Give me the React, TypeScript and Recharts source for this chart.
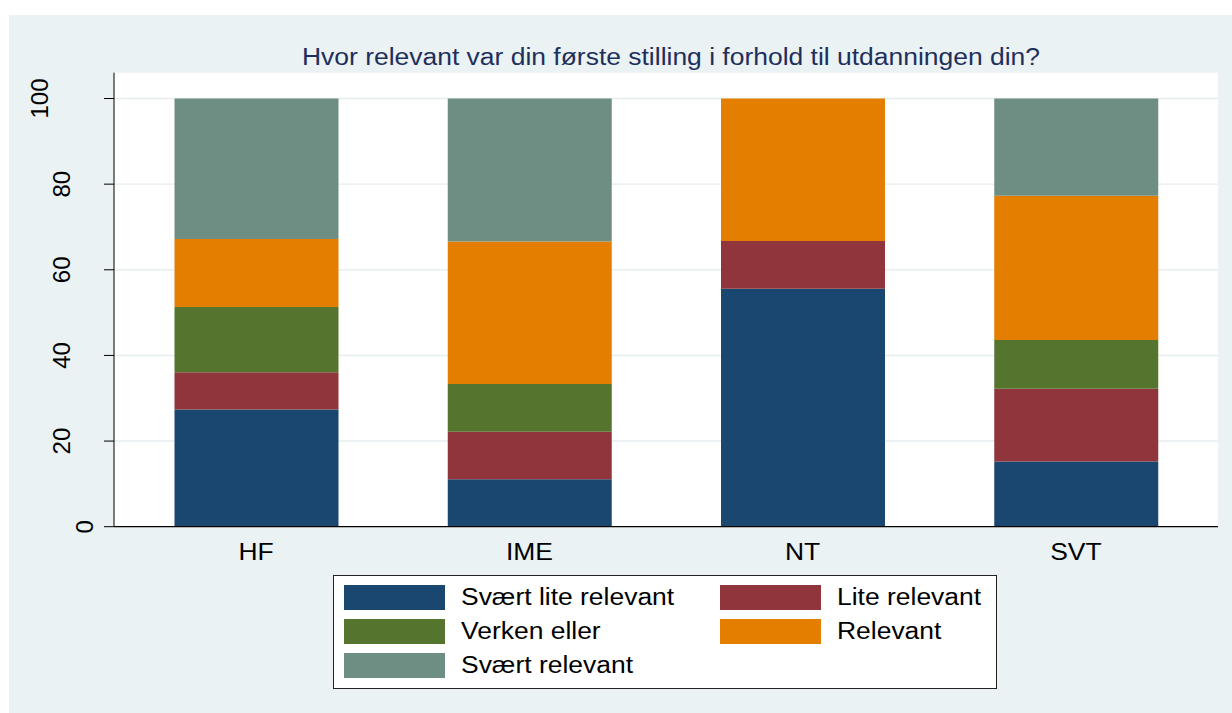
import React from "react";
import {
  BarChart,
  Bar,
  XAxis,
  YAxis,
  CartesianGrid,
  Legend,
} from "recharts";

// Faculties on the x axis
const faculties = ["HF", "IME", "NT", "SVT"];

// Share (%) of each answer per faculty, bottom of the stack first
const sværtLiteRelevant = [27.4, 11.1, 55.6, 15.2];
const liteRelevant = [8.7, 11.1, 11.1, 17.0];
const verkenEller = [15.2, 11.1, 0, 11.4];
const relevant = [15.9, 33.3, 33.3, 33.7];
const sværtRelevant = [32.8, 33.4, 0, 22.7];

const yTicks = [0, 20, 40, 60, 80, 100];

const series = [
  { key: "sværtLite", name: "Svært lite relevant", values: sværtLiteRelevant, color: "#1a476f" },
  { key: "lite", name: "Lite relevant", values: liteRelevant, color: "#90353b" },
  { key: "verken", name: "Verken eller", values: verkenEller, color: "#55752f" },
  { key: "relevant", name: "Relevant", values: relevant, color: "#e37e00" },
  { key: "sværtRel", name: "Svært relevant", values: sværtRelevant, color: "#6e8e84" },
];

const data = faculties.map((name, i) => {
  const row: Record<string, any> = { name };
  series.forEach((s) => {
    row[s.key] = s.values[i];
  });
  return row;
});

const FONT = '"Liberation Sans", Arial, Helvetica, sans-serif';
// Stata's text runs a bit wider than Arial at the same height
const STRETCH = 1.15;

const YTick = ({ x, y, payload }: any) => {
  const label = String(payload.value);
  // longer rotated labels sit further left, as in the original
  const bx = x - 11 - 22.5 * (label.length - 1);
  return (
    <text
      x={bx}
      y={y}
      transform={`rotate(-90, ${bx}, ${y})`}
      textAnchor="middle"
      fontSize={24}
      fontFamily={FONT}
      fill="#000"
    >
      {label}
    </text>
  );
};

const XTick = ({ x, y, payload }: any) => (
  <text
    transform={`translate(${x}, ${y + 33}) scale(${STRETCH}, 1)`}
    textAnchor="middle"
    fontSize={23}
    fontFamily={FONT}
    fill="#000"
  >
    {payload.value}
  </text>
);

const LegendBox = ({ payload }: any) => {
  const order = series.map((s) => s.name);
  const items = [...(payload || [])].sort(
    (a: any, b: any) => order.indexOf(a.value) - order.indexOf(b.value)
  );
  return (
    <div
      style={{
        position: "relative",
        width: 664,
        height: 114,
        background: "#fff",
        border: "1.5px solid #222",
        boxSizing: "border-box",
        fontFamily: FONT,
        fontSize: 23,
        color: "#000",
      }}
    >
      {items.map((item: any, i: number) => {
        const col = i % 2;
        const row = Math.floor(i / 2);
        const left = col === 0 ? 9.5 : 385.5;
        const top = 8.8 + row * 34.3;
        return (
          <div key={item.value} style={{ position: "absolute", left, top, height: 25 }}>
            <div
              style={{
                position: "absolute",
                left: 0,
                top: 0,
                width: 101,
                height: 25,
                background: item.color,
              }}
            />
            <div
              style={{
                position: "absolute",
                left: 117.7,
                top: -1,
                whiteSpace: "nowrap",
                lineHeight: "27px",
                transform: `scaleX(${STRETCH})`,
                transformOrigin: "left center",
              }}
            >
              {item.value}
            </div>
          </div>
        );
      })}
    </div>
  );
};

export default function App() {
  return (
    <div
      style={{
        position: "absolute",
        left: 9,
        top: 15,
        width: 1223,
        height: 698,
        background: "#eaf2f3",
      }}
    >
      <div
        style={{
          position: "absolute",
          left: 261.5,
          width: 800,
          top: 30.5,
          textAlign: "center",
          fontFamily: FONT,
          fontSize: 23,
          lineHeight: "23px",
          color: "#1f2f5c",
          whiteSpace: "nowrap",
          transform: `scaleX(${STRETCH})`,
          transformOrigin: "center center",
        }}
      >
        Hvor relevant var din første stilling i forhold til utdanningen din?
      </div>
      <BarChart
        width={1223}
        height={698}
        data={data}
        barSize={164}
        margin={{ top: 57.7, right: 14, bottom: 146.3, left: 0 }}
      >
        <CartesianGrid
          vertical={false}
          fill="#fff"
          stroke="#e6eef0"
          strokeWidth={1.4}
          horizontalValues={yTicks}
        />
        <XAxis
          dataKey="name"
          height={40}
          padding={{ left: 5.5, right: 5.5 }}
          tickLine={false}
          tickSize={0}
          tickMargin={0}
          axisLine={{ stroke: "#000", strokeWidth: 1.2 }}
          tick={<XTick />}
          interval={0}
        />
        <YAxis
          width={105}
          domain={[0, 106.03]}
          ticks={yTicks}
          allowDataOverflow
          tickSize={10}
          tickMargin={0}
          axisLine={{ stroke: "#000", strokeWidth: 1 }}
          tickLine={{ stroke: "#000", strokeWidth: 1 }}
          tick={<YTick />}
        />
        <Legend
          layout="vertical"
          align="center"
          verticalAlign="middle"
          wrapperStyle={{ left: 324.3, top: 560, width: 664, height: 114 }}
          content={<LegendBox />}
        />
        {series.map((s) => (
          <Bar
            key={s.key}
            dataKey={s.key}
            name={s.name}
            stackId="a"
            fill={s.color}
            isAnimationActive={false}
          />
        ))}
      </BarChart>
    </div>
  );
}
